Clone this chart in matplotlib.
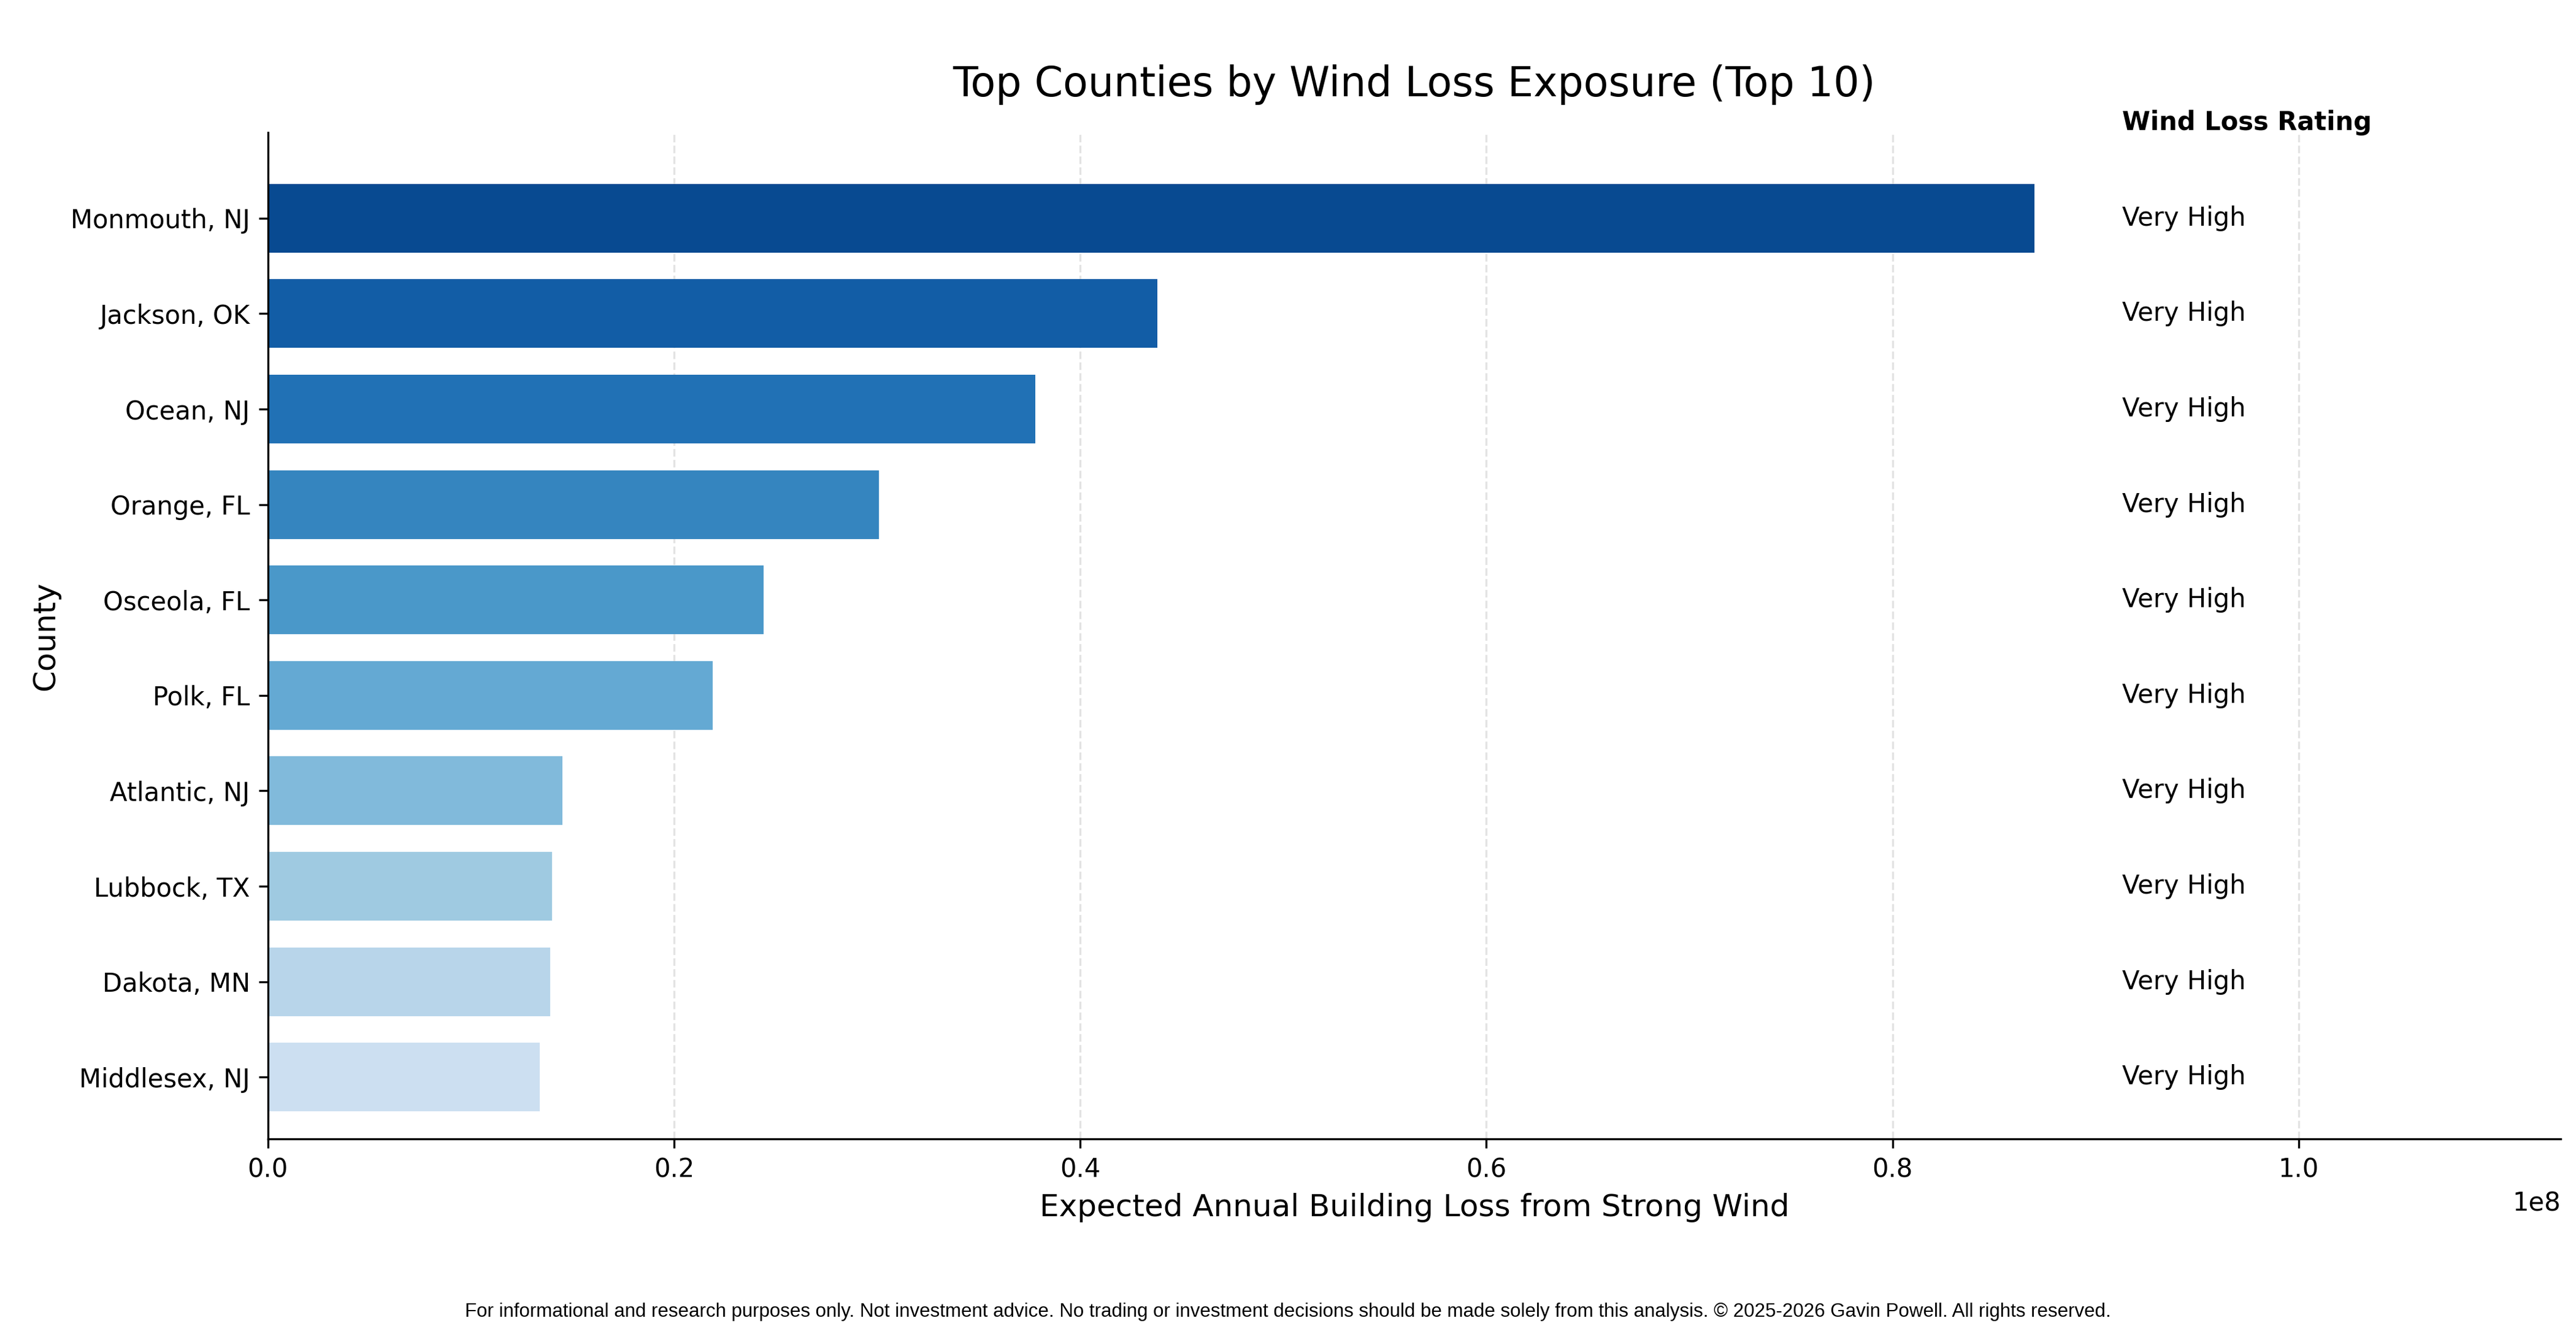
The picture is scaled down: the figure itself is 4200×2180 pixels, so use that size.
import matplotlib
matplotlib.use("Agg")
import matplotlib.pyplot as plt
import numpy as np

counties = ["Monmouth, NJ", "Jackson, OK", "Ocean, NJ", "Orange, FL", "Osceola, FL",
            "Polk, FL", "Atlantic, NJ", "Lubbock, TX", "Dakota, MN", "Middlesex, NJ"]
losses = [0.870e8, 0.438e8, 0.378e8, 0.301e8, 0.244e8, 0.219e8, 0.145e8, 0.140e8, 0.139e8, 0.134e8]
ratings = ["Very High"] * 10

fig = plt.figure(figsize=(14, 7.2667), dpi=300)
ax = fig.add_axes([0.104, 0.148, 0.890, 0.753])
n = len(counties)
y = np.arange(n)
colors = plt.cm.Blues(np.linspace(0.9, 0.22, n))
ax.barh(y, losses, color=colors, height=0.72, zorder=2)
ax.set_yticks(y)
ax.set_yticklabels(counties, fontsize=10)
ax.invert_yaxis()
ax.set_ylim(n - 0.35, -0.9)
ax.set_xlim(0, 1.129e8)
ax.grid(axis="x", linestyle="--", color="#dddddd", alpha=0.8, zorder=0)
ax.spines["top"].set_visible(False)
ax.spines["right"].set_visible(False)
ax.tick_params(axis="x", labelsize=10)
ax.set_xlabel("Expected Annual Building Loss from Strong Wind", fontsize=12)
ax.set_ylabel("County", fontsize=12)
ax.set_title("Top Counties by Wind Loss Exposure (Top 10)", fontsize=16, pad=14)
xr = 0.913e8
for i, r in enumerate(ratings):
    ax.text(xr, i, r, va="center", ha="left", fontsize=10)
ax.text(xr, -1.0, "Wind Loss Rating", va="center", ha="left", fontsize=10, fontweight="bold")
fig.text(0.5, 0.012, "For informational and research purposes only. Not investment advice. No trading or investment decisions should be made solely from this analysis. \u00a9 2025-2026 Gavin Powell. All rights reserved.",
         ha="center", va="bottom", fontsize=7.5, family="Liberation Sans")
fig.savefig("out.png", dpi=300)
